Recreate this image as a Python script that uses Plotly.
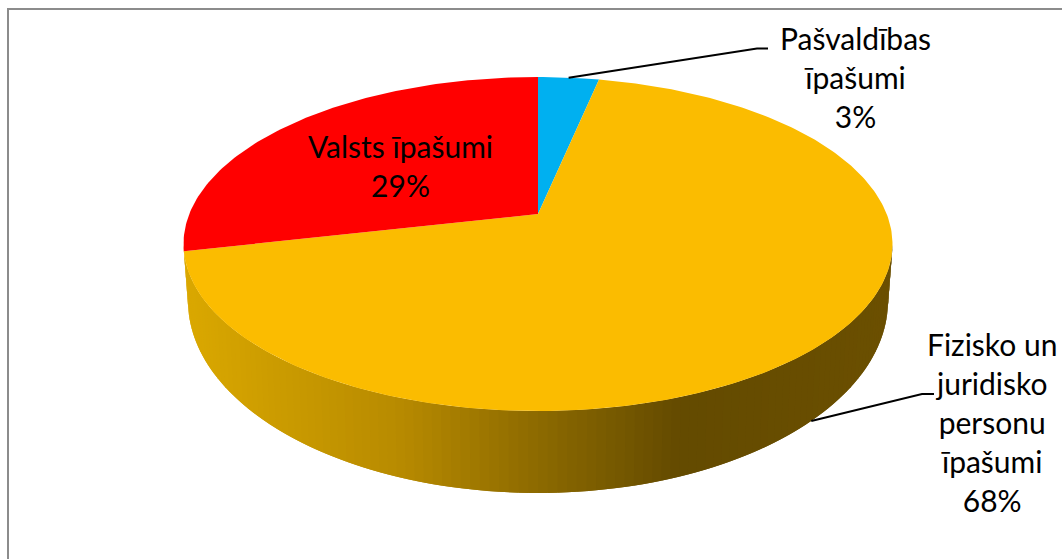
import numpy as np
import plotly.graph_objects as go

# --- data ---
categories = ["Pašvaldības īpašumi", "Fizisko un juridisko personu īpašumi", "Valsts īpašumi"]
values = [3.3, 68.15, 28.55]
colors = ["#00B0F0", "#FBBC00", "#FF0000"]
label_lines = [["Pašvaldības", "īpašumi"], ["Fizisko un", "juridisko", "personu", "īpašumi"], ["Valsts īpašumi"]]

# --- projection of the tilted disc: top rim and bottom rim ---
W, H = 1062, 559
APEX_X = 538.0
K = 0.18
TOP_RIM = dict(a=348.7, c=161.6, y=214.0)
BOTTOM_RIM = dict(a=344.3, c=185.8, y=266.4)
WALL_STOPS_X = [190, 400, 530, 680, 900]
WALL_STOPS_RGB = [(218, 168, 0), (184, 139, 0), (143, 108, 0), (100, 75, 0), (108, 80, 0)]
FONT = "Lato"
FONT_SIZE = 30
LABEL_POS = [(855, 76.5), (992, 422), (400, 165.5)]
ELBOW = [((757, 48.5), (768, 48.5)), ((922, 394), (934, 394))]
LEADER_SHIFT = np.radians(1.8)


def project(theta, rim=TOP_RIM):
    """theta: clockwise angle from 12 o'clock on the flat disc."""
    u, v = np.sin(theta), np.cos(theta)
    d = 1 + K * v
    return APEX_X + rim["a"] * u / d, rim["y"] - rim["c"] * v / d


shares = np.array(values) / sum(values)
edges = np.concatenate([[0], np.cumsum(shares)]) * 2 * np.pi
mids = (edges[:-1] + edges[1:]) / 2

fig = go.Figure()

# side wall: narrow quads between the rims, each overlapping the next to avoid seams
t0 = np.pi / 2 + np.arcsin(K)
t1 = 3 * np.pi / 2 - np.arcsin(K)
steps = np.linspace(t1, t0, 121)  # painted left to right
for i in range(len(steps) - 1):
    a, b = steps[i], steps[min(i + 2, len(steps) - 1)]
    xa, ya = project(a)
    xb, yb = project(b)
    xc, yc = project(b, BOTTOM_RIM)
    xd, yd = project(a, BOTTOM_RIM)
    xm = (xa + xd + project(steps[i + 1])[0] + project(steps[i + 1], BOTTOM_RIM)[0]) / 4
    rgb = [np.interp(xm, WALL_STOPS_X, [s[j] for s in WALL_STOPS_RGB]) for j in range(3)]
    col = "rgb(%d,%d,%d)" % tuple(rgb)
    fig.add_trace(go.Scatter(x=[xa, xb, xc, xd, xa], y=[ya, yb, yc, yd, ya], mode="lines",
                             fill="toself", fillcolor=col, line=dict(color=col, width=0),
                             hoverinfo="skip", showlegend=False))

# top face slices
for i, name in enumerate(categories):
    th = np.linspace(edges[i], edges[i + 1], max(8, int(shares[i] * 400)))
    px, py = project(th)
    apex_y = TOP_RIM["y"]
    fig.add_trace(go.Scatter(x=np.r_[APEX_X, px, APEX_X], y=np.r_[apex_y, py, apex_y], mode="lines",
                             fill="toself", fillcolor=colors[i], line=dict(color=colors[i], width=0),
                             name=name, hoverinfo="skip", showlegend=False))

# leader lines, from the slice mid angles
starts = [project(mids[0]), project(mids[1] + LEADER_SHIFT, BOTTOM_RIM)]
for (sx, sy), (e1, e2) in zip(starts, ELBOW):
    fig.add_trace(go.Scatter(x=[sx, e1[0], e2[0]], y=[sy, e1[1], e2[1]], mode="lines",
                             line=dict(color="#000000", width=2), hoverinfo="skip", showlegend=False))

# labels
annotations = []
for i, lines in enumerate(label_lines):
    text = "<br>".join(lines + ["%d%%" % round(values[i])])
    lx, ly = LABEL_POS[i]
    annotations.append(dict(x=lx, y=ly, xref="x", yref="y", text=text, showarrow=False,
                            xanchor="center", yanchor="middle", align="center",
                            font=dict(family=FONT, size=FONT_SIZE, color="#000000")))

frame = [
    dict(type="line", xref="x", yref="y", x0=8, x1=W, y0=9, y1=9, line=dict(color="#8C8C8C", width=2)),
    dict(type="line", xref="x", yref="y", x0=8, x1=8, y0=8, y1=H, line=dict(color="#8C8C8C", width=2)),
]

fig.update_layout(
    width=W, height=H, margin=dict(l=0, r=0, t=0, b=0), autosize=False,
    paper_bgcolor="white", plot_bgcolor="white", showlegend=False,
    xaxis=dict(range=[0, W], visible=False, fixedrange=True),
    yaxis=dict(range=[H, 0], visible=False, fixedrange=True),
    annotations=annotations, shapes=frame,
)
fig.write_html("out.html", config={"displayModeBar": False},
               post_script="document.body.style.margin='0';document.documentElement.style.overflow='hidden';")
